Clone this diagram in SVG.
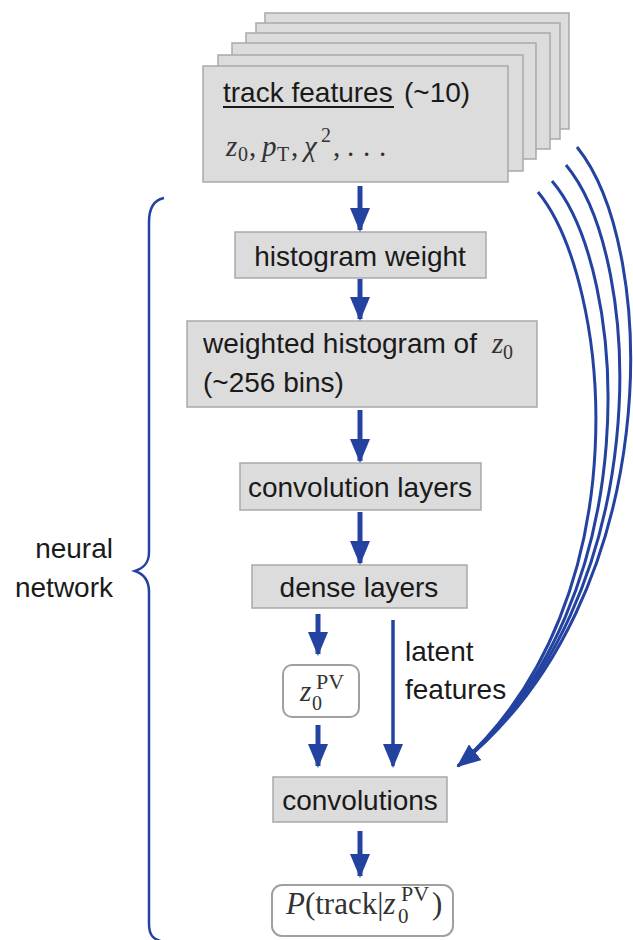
<svg xmlns="http://www.w3.org/2000/svg" width="633" height="940" viewBox="0 0 633 940">
  <style>
    .box { fill: #dcdcdc; stroke: #a9a9a9; stroke-width: 1.5; }
    .rbox { fill: #ffffff; stroke: #a0a0a0; stroke-width: 2; }
    .lbl { font-family: "Liberation Sans", Arial, sans-serif; font-size: 28px; fill: #1a1a1a; }
    .math { font-family: "Liberation Serif", "Times New Roman", serif; font-size: 29px; fill: #333; }
    .it { font-style: italic; }
    .sub { font-size: 20px; }
    .conn { stroke: #2443a0; stroke-width: 5; fill: none; }
    .curve { stroke: #2443a0; stroke-width: 3; fill: none; }
    .brace { stroke: #2443a0; stroke-width: 2.5; fill: none; }
  </style>
  <defs>
    <marker id="head" viewBox="0 0 24 20" refX="22" refY="10" markerWidth="24" markerHeight="20" orient="auto" markerUnits="userSpaceOnUse">
      <path d="M0,0 L24,10 L0,20 Z" fill="#2443a0"/>
    </marker>
  </defs>

  <!-- stacked track feature cards -->
  <g id="track-features">
    <rect class="box" x="265" y="13" width="304" height="116"/>
    <rect class="box" x="256" y="23" width="304" height="116"/>
    <rect class="box" x="246" y="33" width="304" height="116"/>
    <rect class="box" x="232" y="43" width="304" height="116"/>
    <rect class="box" x="218" y="55" width="305" height="116"/>
    <rect class="box" x="203" y="66" width="305" height="116"/>
    <text class="lbl" x="223" y="102">track features</text>
    <line x1="223" y1="107" x2="394" y2="107" stroke="#1a1a1a" stroke-width="2"/>
    <text class="lbl" x="404" y="102">(~10)</text>
    <text class="math" y="156">
      <tspan class="it" x="226">z</tspan><tspan class="sub" x="238" y="161">0</tspan><tspan x="249" y="156">,</tspan>
      <tspan class="it" x="262">p</tspan><tspan class="sub" x="277" y="161">T</tspan><tspan x="291" y="156">,</tspan>
      <tspan class="it" x="304">χ</tspan><tspan class="sub" x="321" y="142">2</tspan><tspan x="333" y="156">,</tspan>
      <tspan x="347">.</tspan><tspan x="363">.</tspan><tspan x="379">.</tspan>
    </text>
  </g>

  <g id="histogram-weight">
    <rect class="box" x="235" y="232" width="251" height="46"/>
    <text class="lbl" x="360" y="266" text-anchor="middle">histogram weight</text>
  </g>

  <g id="weighted-histogram">
    <rect class="box" x="187" y="321" width="350" height="86"/>
    <text class="lbl" x="203" y="353">weighted histogram of</text>
    <text class="math"><tspan class="it" x="492" y="353">z</tspan><tspan class="sub" x="503" y="359">0</tspan></text>
    <text class="lbl" x="203" y="392">(~256 bins)</text>
  </g>

  <g id="convolution-layers">
    <rect class="box" x="240" y="463" width="241" height="47"/>
    <text class="lbl" x="360" y="497" text-anchor="middle">convolution layers</text>
  </g>

  <g id="dense-layers">
    <rect class="box" x="252" y="565" width="215" height="43"/>
    <text class="lbl" x="359" y="597" text-anchor="middle">dense layers</text>
  </g>

  <g id="z0-pv">
    <rect class="rbox" x="283" y="665" width="76" height="52" rx="9"/>
    <text class="math"><tspan class="it" x="300" y="701">z</tspan><tspan class="sub" x="312" y="710">0</tspan><tspan class="sub" x="316" y="689" style="font-size:22px">PV</tspan></text>
  </g>

  <g id="convolutions">
    <rect class="box" x="273" y="777" width="174" height="45"/>
    <text class="lbl" x="360" y="810" text-anchor="middle">convolutions</text>
  </g>

  <g id="p-track">
    <rect class="rbox" x="272" y="885" width="181" height="51" rx="10"/>
    <text class="math" style="font-size:31px"><tspan class="it" x="286" y="914">P</tspan><tspan>(track|</tspan><tspan class="it">z</tspan><tspan class="sub" x="398" y="923" style="font-size:21px">0</tspan><tspan class="sub" x="401" y="901" style="font-size:22px">PV</tspan><tspan x="432" y="914">)</tspan></text>
  </g>

  <g id="latent-label">
    <text class="lbl" x="405" y="661">latent</text>
    <text class="lbl" x="405" y="699">features</text>
  </g>

  <g id="nn-label">
    <text class="lbl" x="113" y="558" text-anchor="end">neural</text>
    <text class="lbl" x="113" y="597" text-anchor="end">network</text>
  </g>

  <g id="connectors">
    <line class="conn" x1="360" y1="186" x2="360" y2="230" marker-end="url(#head)"/>
    <line class="conn" x1="360" y1="279" x2="360" y2="319" marker-end="url(#head)"/>
    <line class="conn" x1="360" y1="410" x2="360" y2="461" marker-end="url(#head)"/>
    <line class="conn" x1="360" y1="512" x2="360" y2="563" marker-end="url(#head)"/>
    <line class="conn" x1="318" y1="614" x2="318" y2="654" marker-end="url(#head)"/>
    <line class="conn" x1="318" y1="725" x2="318" y2="766" marker-end="url(#head)"/>
    <line class="conn" x1="393" y1="620" x2="393" y2="766" marker-end="url(#head)" style="stroke-width:3.5"/>
    <line class="conn" x1="360" y1="831" x2="360" y2="876" marker-end="url(#head)"/>
    <!-- per-track skip connections into the final convolutions -->
    <path class="curve" d="M538,192 C610,280 645,600 458,766"/>
    <path class="curve" d="M552,181 C628,270 652,600 458,766"/>
    <path class="curve" d="M566,165 C645,260 658,600 458,766"/>
    <path class="curve" d="M577,147 C660,250 665,600 458,766" marker-end="url(#head)"/>
    <!-- neural network brace -->
    <path class="brace" d="M164,198 C154,200 149,208 149,222 L149,552 C149,563 144,568 135,571 C144,574 149,580 149,592 L149,924 C149,936 154,940 164,942"/>
  </g>
</svg>
